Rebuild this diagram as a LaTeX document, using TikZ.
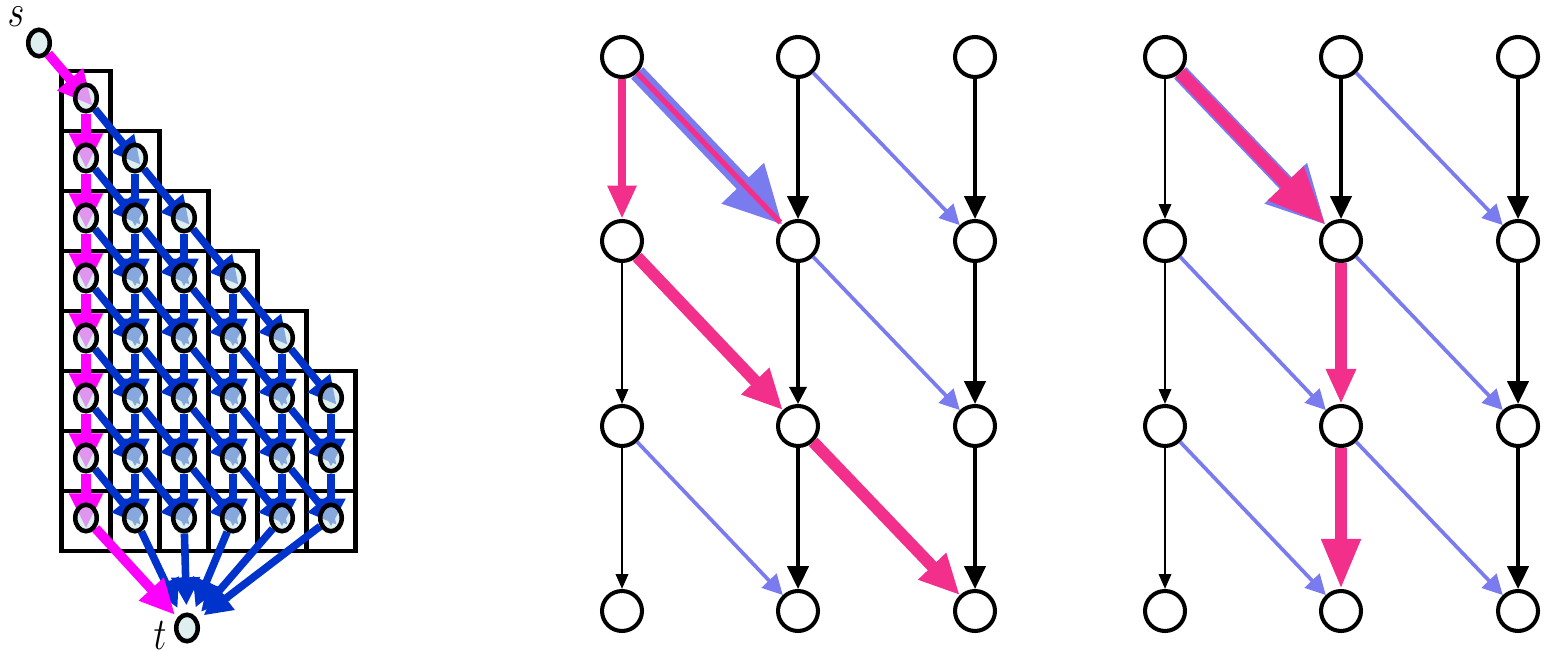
\documentclass[tikz,border=0pt]{standalone}
\usetikzlibrary{arrows.meta,shapes.geometric,backgrounds}
\definecolor{cellfill}{RGB}{206,231,231}
\definecolor{pathmag}{RGB}{255,0,255}
\definecolor{flowblue}{RGB}{0,51,204}
\definecolor{hotpink}{RGB}{242,48,140}
\definecolor{lav}{RGB}{123,123,240}
\tikzset{
  cell/.style={ellipse,draw,line width=2.6pt,fill=cellfill,fill opacity=0.65,
    minimum width=0.43cm,minimum height=0.53cm,inner sep=0pt},
  box/.style={line width=2.8pt},
  bluearr/.style={flowblue,line width=4.3pt,-{Triangle[width=15.5pt,length=16pt]},shorten >=-5pt},
  magarr/.style={pathmag,line width=5.5pt,-{Triangle[width=18pt,length=20pt]},shorten >=-6pt},
  vtx/.style={circle,draw,line width=2.3pt,minimum size=0.8cm,inner sep=0pt},
  thinblk/.style={line width=1.4pt,-{Triangle[width=7pt,length=8.5pt]}},
  midblk/.style={line width=1.8pt,-{Triangle[width=9.7pt,length=9.7pt]}},
  bigblk/.style={line width=2.1pt,-{Triangle[width=12pt,length=13pt]}},
  lavarr/.style={lav,line width=2.1pt,-{Triangle[width=11.4pt,length=11.4pt]}},
  lavthick/.style={lav,line width=9.5pt,-{Triangle[width=31pt,length=33pt]}},
  pinkarr/.style n args={3}{hotpink,line width=#1,-{Triangle[width=#2,length=#3]}},
  lab/.style={font=\fontsize{20}{24}\selectfont,inner sep=1pt}
}
\begin{document}
\begin{tikzpicture}[x=0.02cm,y=-0.02cm]
\useasboundingbox (0,0) rectangle (1547,651);
% left: staircase of cells
\node[cell] (s) at (39,43) {};
\node[cell] (t) at (187,628) {};
\node[lab] (slab) at (16,17) {\scalebox{1}[1.25]{$s$}};
\node[lab] (tlab) at (160,635) {\scalebox{1}[1.25]{$t$}};
\foreach \i in {1,...,8}{
  \pgfmathtruncatemacro\nc{min(\i,6)}
  \foreach \j in {1,...,\nc}
    \node[cell] (g-\i-\j) at ({61.5+49*(\j-0.5)},{71+60*(\i-1)+27}) {};
}
\begin{scope}[on background layer]
  \foreach \i in {1,...,8}{
    \pgfmathtruncatemacro\nc{min(\i,6)}
    \foreach \j in {1,...,\nc}
      \draw[box] ({61.5+49*(\j-1)},{71+60*(\i-1)}) rectangle +(49,60);
  }
  \foreach \i in {1,...,7}{
    \pgfmathtruncatemacro\nc{min(\i,6)}
    \pgfmathtruncatemacro\k{\i+1}
    \foreach \j in {1,...,\nc}{
      \pgfmathtruncatemacro\jj{\j+1}
      \ifnum\j>1 \draw[bluearr] (g-\i-\j) -- (g-\k-\j.center); \fi
      \ifnum\jj<7 \draw[bluearr] (g-\i-\j) -- (g-\k-\jj.center); \fi
    }
  }
  \foreach \j in {2,...,6}
    \draw[bluearr,shorten >=4pt] (g-8-\j) -- (t);
  \draw[magarr] (s) -- (g-1-1.center);
  \foreach \i in {1,...,7}{
    \pgfmathtruncatemacro\k{\i+1}
    \draw[magarr] (g-\i-1) -- (g-\k-1.center);
  }
  \draw[magarr,shorten >=2pt] (g-8-1) -- (t);
\end{scope}
% middle and right graphs
\foreach \p/\dx in {mid/0,rgt/543}
  \foreach \i/\y in {1/57,2/241,3/426,4/611}
    \foreach \j/\x in {1/622,2/798,3/975}
      \node[vtx] (\p-\i-\j) at (\x+\dx,\y) {};
% middle
\draw[pinkarr={5pt}{15.4pt}{19pt}] (mid-1-1) -- (mid-2-1);
\foreach \i/\k in {2/3,3/4} \draw[thinblk] (mid-\i-1) -- (mid-\k-1);
\draw[bigblk] (mid-1-2) -- (mid-2-2);
\draw[midblk] (mid-2-2) -- (mid-3-2);
\draw[bigblk] (mid-3-2) -- (mid-4-2);
\foreach \i/\k in {1/2,2/3,3/4} \draw[bigblk] (mid-\i-3) -- (mid-\k-3);
\draw[lavthick] (mid-1-1) -- (mid-2-2);
\draw[hotpink,line width=3pt,shorten >=2pt] (mid-1-1) -- (mid-2-2);
\draw[lavarr] (mid-1-2) -- (mid-2-3);
\draw[lavarr] (mid-2-2) -- (mid-3-3);
\draw[lavarr] (mid-3-1) -- (mid-4-2);
\draw[pinkarr={6.8pt}{20.5pt}{22.8pt}] (mid-2-1) -- (mid-3-2);
\draw[pinkarr={6.8pt}{20.5pt}{22.8pt}] (mid-3-2) -- (mid-4-3);
% right
\foreach \i/\k in {1/2,2/3,3/4} \draw[thinblk] (rgt-\i-1) -- (rgt-\k-1);
\draw[bigblk] (rgt-1-2) -- (rgt-2-2);
\draw[pinkarr={6.3pt}{16pt}{20pt}] (rgt-2-2) -- (rgt-3-2);
\draw[pinkarr={6.3pt}{21pt}{28.5pt}] (rgt-3-2) -- (rgt-4-2);
\foreach \i/\k in {1/2,2/3,3/4} \draw[bigblk] (rgt-\i-3) -- (rgt-\k-3);
\draw[lavthick] (rgt-1-1) -- (rgt-2-2);
\draw[pinkarr={7.4pt}{26pt}{33pt}] (rgt-1-1) -- (rgt-2-2);
\foreach \a/\b in {1-2/2-3,2-1/3-2,2-2/3-3,3-1/4-2,3-2/4-3}
  \draw[lavarr] (rgt-\a) -- (rgt-\b);
\end{tikzpicture}
\end{document}
